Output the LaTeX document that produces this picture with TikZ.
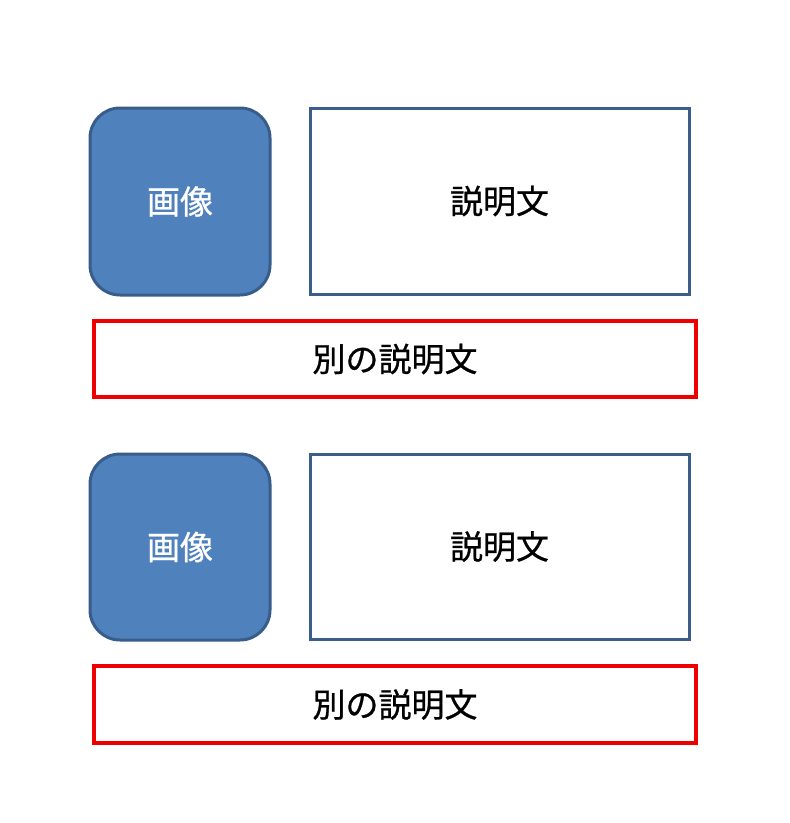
\documentclass[tikz,border=0pt]{standalone}
\usepackage{fontspec}
\newfontfamily\cjk[FakeBold=0.8]{Noto Sans CJK JP}
\definecolor{imgfill}{HTML}{4F81BD}
\definecolor{imgline}{HTML}{385D8A}
\definecolor{txtline}{HTML}{3A5D89}
\definecolor{redline}{HTML}{EE0000}
\tikzset{
  label font/.style={font=\cjk\fontsize{33}{40}\selectfont},
  imgbox/.style={draw=imgline, fill=imgfill, line width=3pt, rounded corners=30pt, text=white, label font, inner sep=0pt},
  descbox/.style={draw=txtline, fill=white, line width=3pt, label font, inner sep=0pt, minimum width=379pt, minimum height=186pt},
  otherbox/.style={draw=redline, fill=white, line width=3.5pt, label font, inner sep=0pt, minimum width=602pt, minimum height=76pt},
}
\begin{document}
\begin{tikzpicture}[x=1pt,y=-1pt]
\useasboundingbox (0,0) rectangle (790,823);
\fill[white] (0,0) rectangle (790,823);
% first group
\node[imgbox, minimum width=180pt, minimum height=187pt] (img1) at (180,201.5) {画像};
\node[descbox] (desc1) at (499.5,201) {説明文};
\node[otherbox] (other1) at (395,359) {別の説明文};
% second group
\node[imgbox, minimum width=180pt, minimum height=186pt] (img2) at (180,547) {画像};
\node[descbox, minimum height=185pt] (desc2) at (499.5,546.5) {説明文};
\node[otherbox, minimum height=77pt] (other2) at (395,704.5) {別の説明文};
\end{tikzpicture}
\end{document}
